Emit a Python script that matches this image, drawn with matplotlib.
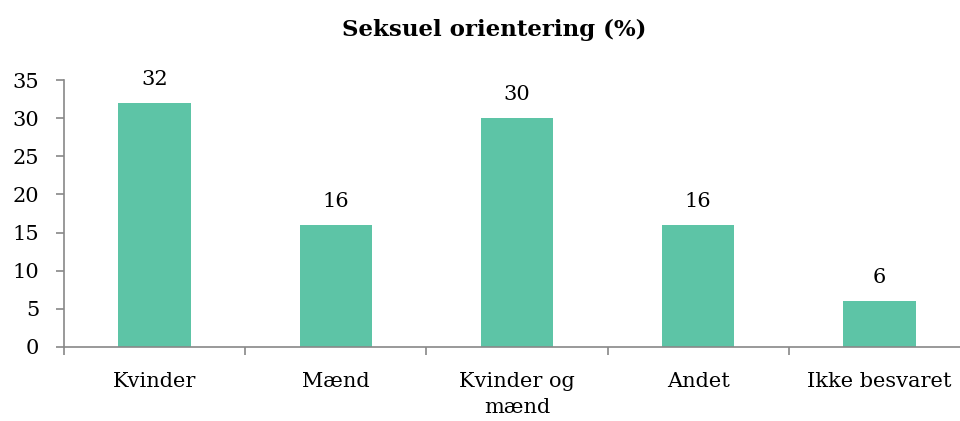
import numpy as np
import matplotlib.pyplot as plt

categories = ["Kvinder", "Mænd", "Kvinder og\nmænd", "Andet", "Ikke besvaret"]
values = [32, 16, 30, 16, 6]

plt.rcParams['font.family'] = ['DejaVu Serif']

fig = plt.figure(figsize=(9.6, 4.21), dpi=100)
ax = fig.add_axes([64/960, 74/421, 906/960, 267/421])

x = np.arange(len(categories))
ax.bar(x, values, width=0.4, color='#5DC4A6')

for xi, v in zip(x, values):
    ax.annotate(str(v), (xi, v), xytext=(0, 10), textcoords='offset points',
                ha='center', va='bottom', fontsize=15)

ax.set_xlim(-0.5, len(categories) - 0.5)
ax.set_ylim(0, 35)
ax.set_yticks(range(0, 36, 5))
ax.set_xticks(np.arange(-0.5, len(categories), 1))
ax.set_xticklabels([])
ax.set_xticks(x, minor=True)
ax.set_xticklabels(categories, minor=True, fontsize=15, linespacing=1.45)
ax.tick_params(axis='x', which='minor', length=0, pad=18)
ax.tick_params(axis='x', which='major', length=6, color='#888888', width=1.2)
ax.tick_params(axis='y', length=6, color='#888888', width=1.2, labelsize=15, pad=12)

for s in ['top', 'right']:
    ax.spines[s].set_visible(False)
for s in ['left', 'bottom']:
    ax.spines[s].set_color('#888888')
    ax.spines[s].set_linewidth(1.2)

fig.text(0.515, 0.928, "Seksuel orientering (%)", ha='center', va='center',
         fontsize=16.5, fontweight='bold')

fig.savefig("out.png", dpi=100)
